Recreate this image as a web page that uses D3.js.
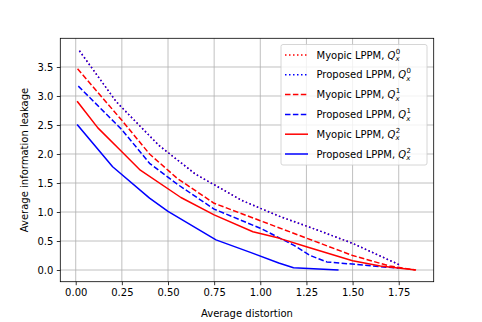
<!DOCTYPE html>
<html><head><meta charset="utf-8">
<script src="https://cdn.jsdelivr.net/npm/d3@7"></script>
<style>body{margin:0;background:#fff}svg{display:block}text{font-family:"DejaVu Sans",sans-serif}</style>
</head><body>
<svg id="c" width="482" height="322"></svg>
<script>
const xTicks = [0, 0.25, 0.5, 0.75, 1.0, 1.25, 1.5, 1.75];
const yTicks = [0, 0.5, 1.0, 1.5, 2.0, 2.5, 3.0, 3.5];
const xLabel = "Average distortion";
const yLabel = "Average information leakage";

const myopicQ0 = [[0.02,3.78],[0.22,2.9],[0.45,2.15],[0.65,1.65],[0.9,1.2],[1.1,0.93],[1.3,0.7],[1.5,0.46],[1.76,0.08]];
const proposedQ0 = [[0.02,3.78],[0.22,2.9],[0.45,2.15],[0.65,1.65],[0.9,1.2],[1.1,0.93],[1.3,0.7],[1.5,0.46],[1.76,0.08]];
const myopicQ1 = [[0.01,3.47],[0.25,2.58],[0.4,2.0],[0.55,1.58],[0.75,1.15],[1.0,0.85],[1.25,0.55],[1.5,0.25],[1.7,0.07],[1.84,0.0]];
const proposedQ1 = [[0.014,3.17],[0.25,2.42],[0.4,1.84],[0.55,1.48],[0.75,1.05],[1.0,0.72],[1.18,0.43],[1.27,0.25],[1.36,0.14],[1.54,0.09],[1.75,0.03]];
const myopicQ2 = [[0.01,2.9],[0.12,2.45],[0.25,2.04],[0.35,1.72],[0.57,1.25],[0.75,0.95],[0.96,0.66],[1.1,0.55],[1.25,0.40],[1.5,0.16],[1.65,0.07],[1.84,0.0]];
const proposedQ2 = [[0.01,2.5],[0.2,1.78],[0.4,1.24],[0.5,1.01],[0.76,0.52],[0.95,0.30],[1.1,0.12],[1.18,0.04],[1.42,0.0]];

const series = [
  {name:"Myopic LPPM", sup:"0", data:myopicQ0, color:"#ff0000", dash:"1.5,2.5"},
  {name:"Proposed LPPM", sup:"0", data:proposedQ0, color:"#0000ff", dash:"1.5,2.5"},
  {name:"Myopic LPPM", sup:"1", data:myopicQ1, color:"#ff0000", dash:"5.5,2.4"},
  {name:"Proposed LPPM", sup:"1", data:proposedQ1, color:"#0000ff", dash:"5.5,2.4"},
  {name:"Myopic LPPM", sup:"2", data:myopicQ2, color:"#ff0000", dash:null},
  {name:"Proposed LPPM", sup:"2", data:proposedQ2, color:"#0000ff", dash:null}
];

const L=60.3, R=433.7, T=38.3, B=281.7;
const x = d3.scaleLinear().domain([-0.0835, 1.9395]).range([L, R]);
const y = d3.scaleLinear().domain([-0.2017, 3.9948]).range([B, T]);
const svg = d3.select("#c");

// grid
svg.append("g").selectAll("line").data(xTicks).join("line")
  .attr("x1",d=>x(d)).attr("x2",d=>x(d)).attr("y1",T).attr("y2",B)
  .attr("stroke","#b0b0b0").attr("stroke-width",0.8);
svg.append("g").selectAll("line").data(yTicks).join("line")
  .attr("y1",d=>y(d)).attr("y2",d=>y(d)).attr("x1",L).attr("x2",R)
  .attr("stroke","#b0b0b0").attr("stroke-width",0.8);

// lines
const line = d3.line().x(d=>x(d[0])).y(d=>y(d[1]));
series.forEach(s=>{
  svg.append("path").attr("d",line(s.data)).attr("fill","none")
    .attr("stroke",s.color).attr("stroke-width",1.5)
    .attr("stroke-dasharray",s.dash)
    .attr("stroke-linecap", s.dash ? "butt" : "square")
    .attr("stroke-linejoin","round");
});

// axes
const xa = svg.append("g").attr("transform",`translate(0,${B})`)
  .call(d3.axisBottom(x).tickValues(xTicks).tickFormat(d3.format(".2f")).tickSize(3.5).tickPadding(3.5));
const ya = svg.append("g").attr("transform",`translate(${L},0)`)
  .call(d3.axisLeft(y).tickValues(yTicks).tickFormat(d3.format(".1f")).tickSize(3.5).tickPadding(3.5));
[xa,ya].forEach(a=>{
  a.select(".domain").remove();
  a.selectAll("text").attr("font-size",10).attr("fill","#000").attr("font-family","DejaVu Sans");
  a.selectAll("line").attr("stroke","#000").attr("stroke-width",0.8);
});
svg.append("rect").attr("x",L).attr("y",T).attr("width",R-L).attr("height",B-T)
  .attr("fill","none").attr("stroke","#000").attr("stroke-width",0.8);

svg.append("text").attr("x",(L+R)/2).attr("y",317).attr("text-anchor","middle")
  .attr("font-size",10).text(xLabel);
svg.append("text").attr("transform",`translate(27.5,${(T+B)/2}) rotate(-90)`)
  .attr("text-anchor","middle").attr("font-size",10).text(yLabel);

// legend
const lg = svg.append("g");
lg.append("rect").attr("x",281).attr("y",44.5).attr("width",146).attr("height",120.5)
  .attr("rx",2).attr("fill","#fff").attr("fill-opacity",0.8).attr("stroke","#cccccc").attr("stroke-width",0.8);
series.forEach((s,i)=>{
  const yy = 55 + i*19.8;
  lg.append("line").attr("x1",285).attr("x2",308).attr("y1",yy).attr("y2",yy)
    .attr("stroke",s.color).attr("stroke-width",1.5).attr("stroke-dasharray",s.dash);
  const t = lg.append("text").attr("x",316.5).attr("y",yy+3.6).attr("font-size",10);
  t.append("tspan").text(s.name+", ");
  t.append("tspan").attr("font-style","italic").text("Q");
  t.append("tspan").attr("font-style","italic").attr("font-size",7).attr("dy",2.6).text("x");
  t.append("tspan").attr("font-size",7).attr("dx",-4).attr("dy",-7.6).text(s.sup);
});
</script>
</body></html>
